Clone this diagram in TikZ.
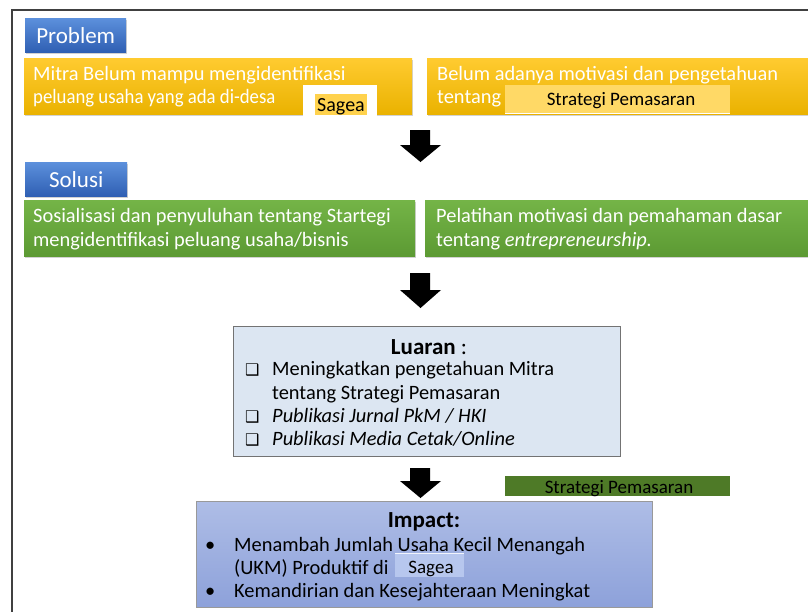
\documentclass[tikz,border=0pt]{standalone}
\usepackage{fontspec}
\setmainfont{Carlito}
\newfontfamily\symfont{DejaVu Sans}
\usetikzlibrary{shadows}
\definecolor{hdrtop}{HTML}{5C90DC}
\definecolor{hdrbot}{HTML}{2F5FB3}
\definecolor{yeltop}{HTML}{FFCB30}
\definecolor{yelbot}{HTML}{EAB200}
\definecolor{grntop}{HTML}{74B447}
\definecolor{grnbot}{HTML}{5C9A33}
\definecolor{luarfill}{HTML}{DCE6F2}
\definecolor{imptop}{HTML}{AEBDE6}
\definecolor{impbot}{HTML}{8DA1DA}
\definecolor{darkgrn}{HTML}{4E7A27}
\definecolor{lightyel}{HTML}{FFD966}
\definecolor{hiyel}{HTML}{FFD24D}
\definecolor{sageabl}{HTML}{B7C7EE}
\tikzset{
  box/.style={anchor=north west, inner sep=0pt, draw=none, drop shadow={shadow xshift=1pt, shadow yshift=-2pt, opacity=0.35}},
  hdrbox/.style={box, top color=hdrtop, bottom color=hdrbot, text=white, font=\fontsize{23}{26}\selectfont},
  yelbox/.style={box, top color=yeltop, bottom color=yelbot},
  grnbox/.style={box, top color=grntop, bottom color=grnbot},
  txt/.style={anchor=base west, inner sep=0pt, font=\fontsize{20.4}{24}\selectfont},
  wtxt/.style={txt, text=white},
  ctxt/.style={anchor=base, inner sep=0pt, font=\fontsize{20.4}{24}\selectfont},
  headtxt/.style={anchor=base, inner sep=0pt, font=\fontsize{23}{26}\selectfont},
  smalltxt/.style={anchor=base, inner sep=0pt, font=\fontsize{19}{22}\selectfont},
  chk/.style={anchor=base west, inner sep=0pt, font=\symfont\fontsize{16}{18}\selectfont},
  blockarrow/.style={fill=black},
}
\begin{document}
\begin{tikzpicture}[x=1pt,y=-1pt]
\useasboundingbox (0,0) rectangle (808,611);
\clip (0,0) rectangle (808,611);
\fill[white] (0,0) rectangle (808,611);
% outer frame
\draw[line width=1.6pt, black!75] (12,640) -- (12,10) -- (830,10);

% Problem section
\node[hdrbox, minimum width=101pt, minimum height=34pt] (prob) at (25,18) {Problem};
\node[yelbox, minimum width=388pt, minimum height=56pt] (p1) at (24,58) {};
\node[wtxt] (p1a) at (33,80) {Mitra Belum mampu mengidentifikasi};
\node[wtxt] (p1b) at (33,103) {\scalebox{0.92}[1]{peluang usaha yang ada di-desa}};
\node[anchor=north west, fill=white, minimum width=74pt, minimum height=32pt, inner sep=0pt] (p1w) at (303,85) {};
\node[anchor=north west, fill=hiyel, minimum width=52pt, minimum height=21pt, inner sep=0pt] (p1h) at (315,94) {};
\node[smalltxt, font=\fontsize{20}{22}\selectfont] (sg1) at (341,111) {Sagea};

\node[yelbox, minimum width=400pt, minimum height=56pt] (p2) at (427,58) {};
\node[wtxt] (p2a) at (437,80) {Belum adanya motivasi dan pengetahuan};
\node[wtxt] (p2b) at (437,103) {tentang};
\node[anchor=north west, fill=lightyel, minimum width=225pt, minimum height=28pt, inner sep=0pt] (p2h) at (505,85) {};
\draw[white, line width=1.5pt] (p2h.south west) -- (p2h.south east);
\node[smalltxt] (sp1) at (621,105) {Strategi Pemasaran};

% arrow 1
\fill[blockarrow] (410,130) -- (430,130) -- (430,145) -- (441,145) -- (420.5,162) -- (400,145) -- (410,145) -- cycle;

% Solusi section
\node[hdrbox, minimum width=102pt, minimum height=34pt] (sol) at (25,162) {Solusi};
\node[grnbox, minimum width=391pt, minimum height=56pt] (s1) at (24,200) {};
\node[wtxt] (s1a) at (33,222) {Sosialisasi dan penyuluhan tentang Startegi};
\node[wtxt] (s1b) at (33,246) {mengidentifikasi peluang usaha/bisnis};
\node[grnbox, minimum width=400pt, minimum height=56pt] (s2) at (425,200) {};
\node[wtxt] (s2a) at (436,222) {Pelatihan motivasi dan pemahaman dasar};
\node[wtxt] (s2b) at (436,246) {tentang \textit{entrepreneurship.}};

% arrow 2
\fill[blockarrow] (410,273) -- (430,273) -- (430,290) -- (441,290) -- (420.5,308) -- (400,290) -- (410,290) -- cycle;

% Luaran
\node[anchor=north west, fill=luarfill, draw=black!55, line width=1.2pt, minimum width=387pt, minimum height=130pt, inner sep=0pt] (lu) at (233,326) {};
\node[headtxt] (luh) at (429,354) {\textbf{Luaran} :};
\node[chk] (c1) at (245,375) {❑};
\node[txt] (l1) at (272,375) {Meningkatkan pengetahuan Mitra};
\node[txt] (l2) at (272,399) {tentang Strategi Pemasaran};
\node[chk] (c3) at (245,422) {❑};
\node[txt] (l3) at (272,422) {\textit{Publikasi Jurnal PkM / HKI}};
\node[chk] (c4) at (245,445) {❑};
\node[txt] (l4) at (272,445) {\textit{Publikasi Media Cetak/Online}};

% arrow 3
\fill[blockarrow] (410,468) -- (430,468) -- (430,481) -- (441,481) -- (420.5,498) -- (400,481) -- (410,481) -- cycle;

% Strategi Pemasaran label
\node[anchor=north west, fill=darkgrn, minimum width=225pt, minimum height=20pt, inner sep=0pt] (spl) at (505,476) {};
\node[smalltxt] (sp2) at (619,493) {Strategi Pemasaran};

% Impact
\node[anchor=north west, top color=imptop, bottom color=impbot, draw=black!40, line width=1pt, minimum width=456pt, minimum height=106pt, inner sep=0pt] (imp) at (196,501) {};
\node[headtxt] (imh) at (424,527) {\textbf{Impact:}};
\node[txt] (b1) at (205,551) {•};
\node[txt] (i1) at (234,551) {Menambah Jumlah Usaha Kecil Menangah};
\node[txt] (i2) at (234,574) {(UKM) Produktif di};
\node[anchor=north west, fill=sageabl, minimum width=69pt, minimum height=24pt, inner sep=0pt] (ish) at (395,553) {};
\draw[white!80!sageabl, line width=1pt] (ish.north west) -- (ish.north east);
\node[smalltxt] (sg2) at (431,573) {Sagea};
\node[txt] (b3) at (205,597) {•};
\node[txt] (i3) at (234,597) {Kemandirian dan Kesejahteraan Meningkat};
\end{tikzpicture}
\end{document}
